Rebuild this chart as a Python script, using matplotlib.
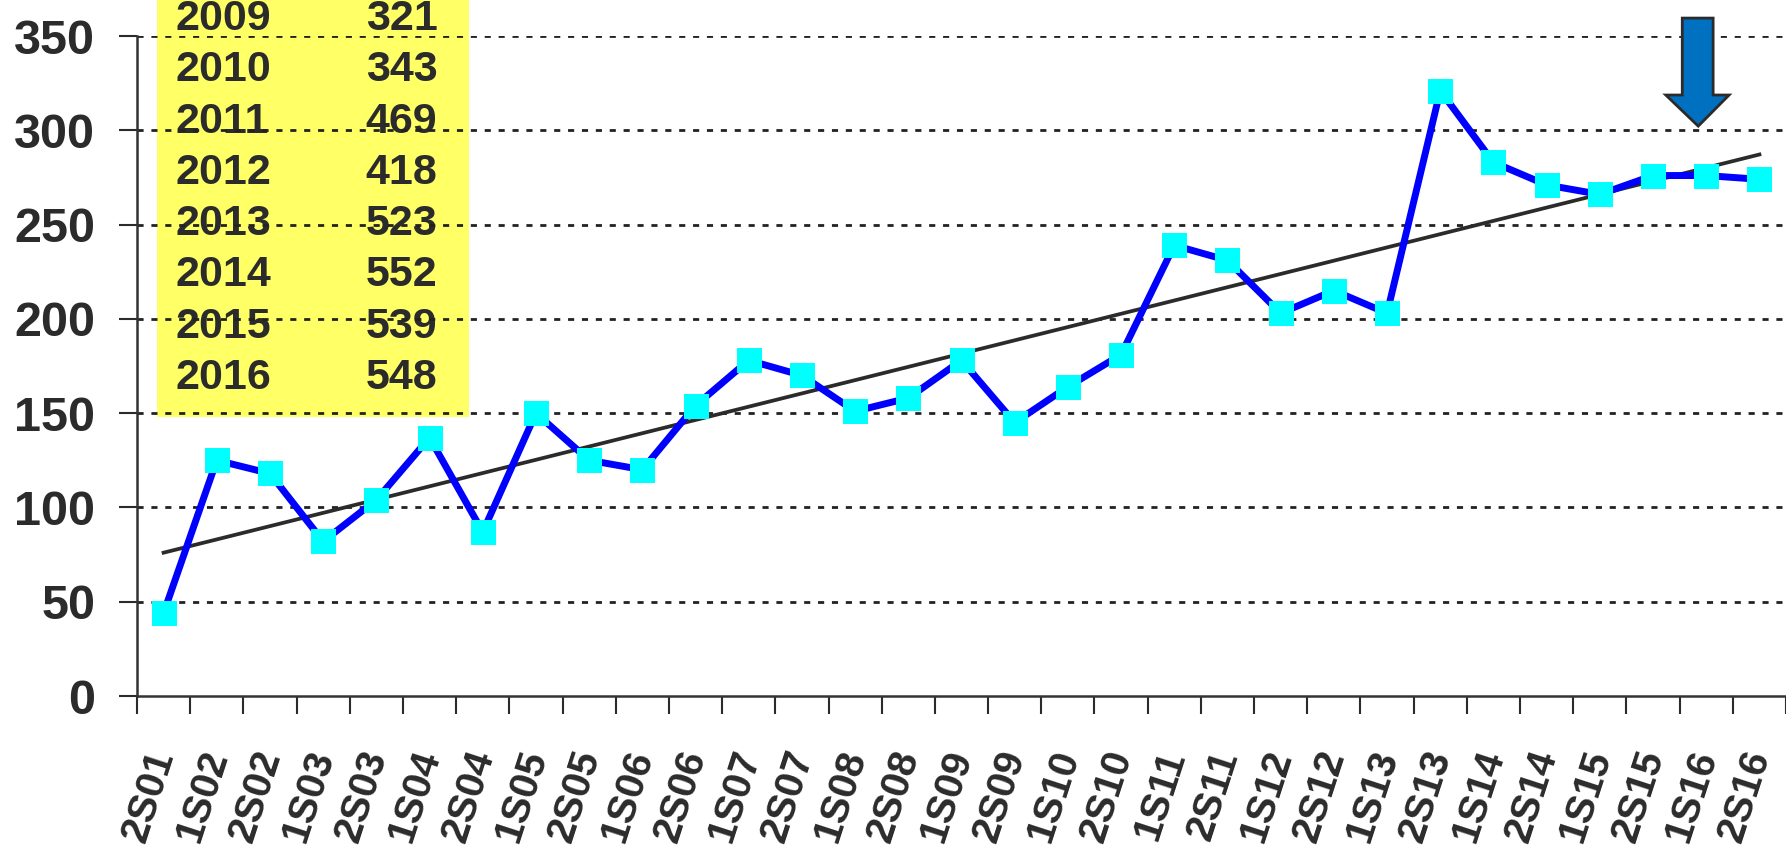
import numpy as np
import matplotlib.pyplot as plt
from matplotlib.patches import Polygon, Rectangle

# half-year periods and values
periods = ['2S01', '1S02', '2S02', '1S03', '2S03', '1S04', '2S04', '1S05', '2S05',
           '1S06', '2S06', '1S07', '2S07', '1S08', '2S08', '1S09', '2S09', '1S10',
           '2S10', '1S11', '2S11', '1S12', '2S12', '1S13', '2S13', '1S14', '2S14',
           '1S15', '2S15', '1S16', '2S16']
values = [44, 125, 118, 82, 104, 137, 87, 150, 125, 120, 154, 178, 170, 151, 158,
          178, 145, 164, 181, 239, 231, 203, 215, 203, 321, 283, 271, 266, 276, 276, 274]

# yearly totals shown in the yellow box
years = ['2009', '2010', '2011', '2012', '2013', '2014', '2015', '2016']
totals = ['321', '343', '469', '418', '523', '552', '539', '548']

txt = '#2b2b2b'
plt.rcParams['font.family'] = ['Liberation Sans', 'DejaVu Sans']

fig = plt.figure(figsize=(17.86, 8.5), dpi=100)
ax = fig.add_axes([137 / 1786, 1 - 696 / 850, 1 - 137 / 1786, (696 - 36) / 850])

x = np.arange(len(values))

# yellow box behind everything
ax.add_patch(Rectangle((-0.13, 148), 5.88, 230, facecolor='#ffff66', edgecolor='none',
                       clip_on=False, zorder=0))
for i, (yr, tv) in enumerate(zip(years, totals)):
    yy = 359 - i * 27.2
    ax.text(0.23, yy, yr, fontsize=31, fontweight='bold', color=txt, va='center',
            ha='left', clip_on=False, zorder=1)
    ax.text(3.8, yy, tv, fontsize=31, fontweight='bold', color=txt, va='center',
            ha='left', clip_on=False, zorder=1)

for g in range(50, 351, 50):
    ax.axhline(g, color='#222222', lw=2, linestyle=(0, (2.2, 2.8)), zorder=2)

# trend line
coef = np.polyfit(x, values, 1)
ax.plot(x, np.polyval(coef, x), color=txt, lw=2.7, zorder=3)

ax.plot(x, values, color='#0000ff', lw=5, marker='s', markersize=18,
        markerfacecolor='#00ffff', markeredgewidth=0, zorder=4, clip_on=False)

# arrow pointing at 1S16
arrow = [(28.55, 359.5), (29.13, 359.5), (29.13, 318.7), (29.43, 318.7),
         (28.85, 302.2), (28.24, 318.7), (28.55, 318.7)]
ax.add_patch(Polygon(arrow, closed=True, facecolor='#0070c0', edgecolor='#2b2b2b',
                     lw=2, clip_on=False, zorder=5))

ax.set_xlim(-0.5, 30.17)
ax.set_ylim(0, 350)
ax.set_yticks(range(0, 351, 50))
ax.tick_params(axis='y', labelsize=35, length=13, width=1.5, colors=txt, pad=17)
for lab in ax.get_yticklabels():
    lab.set_fontweight('bold')

ax.set_xticks(x)
ax.set_xticklabels(periods, rotation=72, ha='right', va='center', rotation_mode='anchor',
                   fontsize=29, fontweight='bold', color=txt)
ax.set_xticks(np.arange(-0.5, 31, 1), minor=True)
ax.tick_params(axis='x', which='major', length=0, pad=40)
ax.tick_params(axis='x', which='minor', length=13, width=1.5, color=txt)

for s in ['top', 'right']:
    ax.spines[s].set_visible(False)
for s in ['left', 'bottom']:
    ax.spines[s].set_color('#333333')
    ax.spines[s].set_linewidth(1.8)

fig.savefig('out.png', dpi=100)
